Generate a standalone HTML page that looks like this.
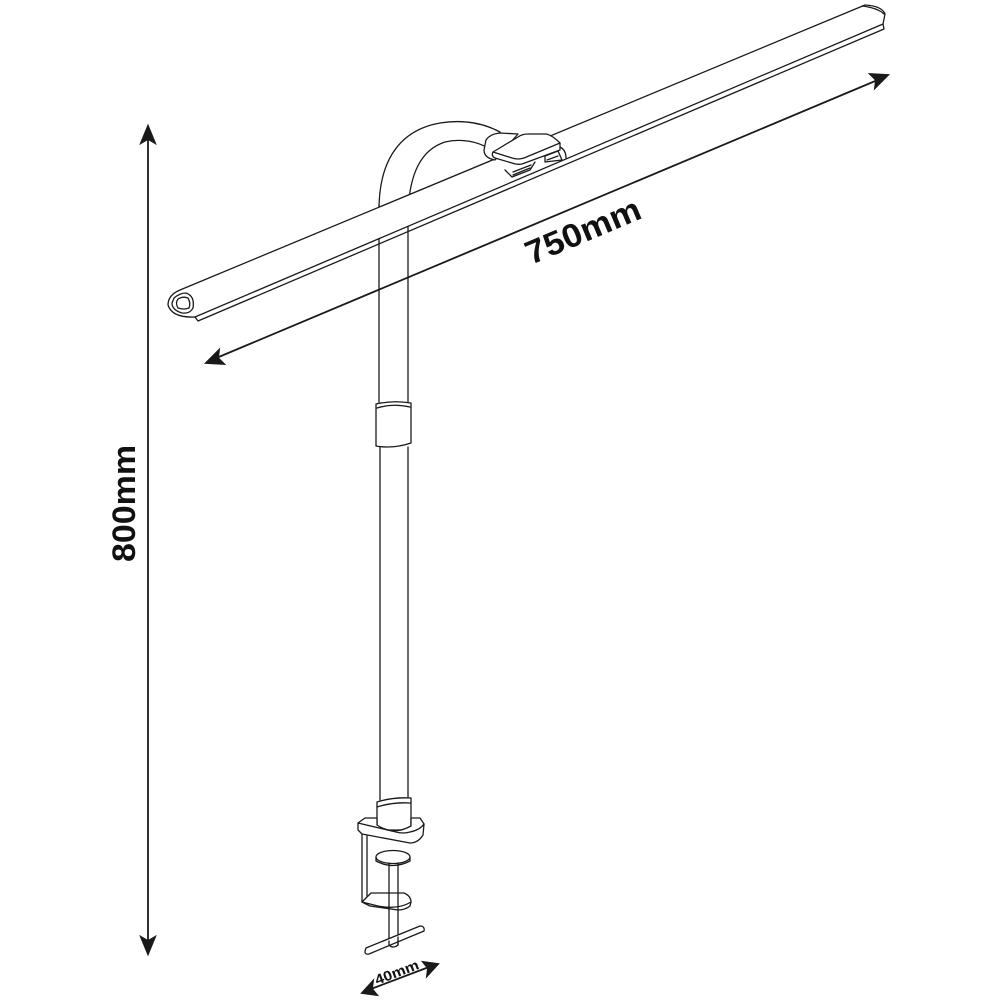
<!DOCTYPE html>
<html><head><style>html,body{margin:0;padding:0;background:#fff;width:1000px;height:1000px;overflow:hidden}</style></head>
<body>
<svg width="1000" height="1000" viewBox="0 0 1000 1000" xmlns="http://www.w3.org/2000/svg">
<g fill="none" stroke="#1a1a1a" stroke-width="1.3" stroke-linejoin="round" stroke-linecap="round">
<!-- arm arc -->
<path d="M379 210 C379 160 400 130 440 123 C465 119 485 124 500 132" fill="#fff"/>
<path d="M408 210 C410 175 420 150 445 142 C462 138 478 142 488 148"/>
<!-- pole -->
<path d="M379 205 L379 402 M408 205 L408 402"/>
<path d="M380 447 L380 800 M408 447 L408 800"/>
<!-- collar -->
<path d="M376 404 Q393 400 411 403 L411 443 Q393 449 376 446 Z" fill="#fff"/>
<path d="M377 408 Q393 403 410 407"/>
<!-- bar -->
<path d="M180 290 L865 5 Q882 6 885 14 L883 24 L195 317 Q172 318 168 305 Q168 295 180 290 Z" fill="#fff"/>
<path d="M195 317 L198 321 L884 29 L883 24"/>
<path d="M174 298 Q180 293 186 293 Q195 296 193 308 Q190 314 182 313 Q172 310 172 303 Z"/>
<path d="M178 299 Q183 296 188 298 Q191 303 189 308 Q184 310 178 308 Q175 303 178 299 Z"/>
<path d="M862 6 Q878 8 884 14"/>
<!-- hub -->
<path d="M486 140 Q490 134 500 133 L518 134 L495 160 Q484 158 484 150 Z" fill="#fff"/>
<path d="M505 170 L512 177 L530 170 L535 162" fill="#fff"/>
<path d="M513 175 L530 168 M513 172 L531 165"/>
<path d="M545 162 L545 156 L558 151 L562 160 Z" fill="#fff"/>
<path d="M547 160 L558 156"/>
<path d="M560 147 Q566 150 566 158"/>
<path d="M493 152 L518 137 Q522 134 528 134 L546 134 Q552 135 560 143 L560 150 L522 164 Q517 165 512 163 L495 158 Q491 156 493 152 Z" fill="#fff"/>
<path d="M493 152 L512 158 Q518 160 524 158 L560 143"/>
<!-- base collar -->
<path d="M377 802 Q393 797 411 798 L411 830 L377 830 Z" fill="#fff"/>
<path d="M377 807 Q393 802 410 803"/>
<!-- clamp top plate -->
<path d="M358 823 L365 818 L377 818 L377 825 Q393 836 411 826 L411 818 L420 818 L424 824 L423 835 Q418 843 410 843 L362 834 L358 830 Z" fill="#fff"/>
<path d="M358 823 L396 832 Q403 834 410 832 Q420 830 424 824"/>
<!-- clamp vertical -->
<path d="M362 834 L362 902 M367 836 L367 896"/>
<!-- disc -->
<path d="M376 857 L376 861 Q393 870 410 861 L410 857" fill="#fff"/>
<ellipse cx="393" cy="857" rx="17" ry="6.5" fill="#fff"/>
<!-- lower jaw -->
<path d="M362 902 L371 893 L404 893 Q411 896 411 902 L410 906 Q405 910 398 910 L370 906 Z" fill="#fff"/>
<path d="M362 902 L378 906 Q398 910 411 902"/>
<!-- screw -->
<path d="M389 863 L389 945 M398 863 L398 945"/>
<!-- T handle -->
<path d="M366 948 L420 926 Q425 926 424 931 L369 954 Q363 955 366 948 Z" fill="#fff"/>
<path d="M389 941 L389 945 Q393 949 398 945 L398 937"/>
</g>
<!-- dimension lines -->
<g stroke="#1a1a1a" stroke-width="1.8" fill="#1a1a1a">
<line x1="148" y1="135" x2="148" y2="945"/>
<path d="M148 126 L141 143 L148 139 L155 143 Z"/>
<path d="M148 954 L141 937 L148 941 L155 937 Z"/>
<line x1="214" y1="359" x2="880" y2="79"/>
<path d="M206 363 L224 364 L218 358 L219 350 Z"/>
<path d="M888 75 L870 74 L876 80 L875 88 Z"/>
<line x1="371" y1="989" x2="429" y2="967"/>
<path d="M362 993 L377 995 L372 989 L373 981 Z"/>
<path d="M438 964 L423 962 L428 968 L427 976 Z"/>
</g>
<g font-family="Liberation Sans, sans-serif" font-weight="bold" fill="#111">
<text x="0" y="0" font-size="32" textLength="117" lengthAdjust="spacingAndGlyphs" transform="translate(135 562) rotate(-90)">800mm</text>
<text x="0" y="0" font-size="33" textLength="122" lengthAdjust="spacingAndGlyphs" transform="translate(531 265) rotate(-22.8)">750mm</text>
<text x="0" y="0" font-size="14" textLength="46" lengthAdjust="spacingAndGlyphs" transform="translate(377 985) rotate(-21)">40mm</text>
</g>
</svg>
</body></html>
